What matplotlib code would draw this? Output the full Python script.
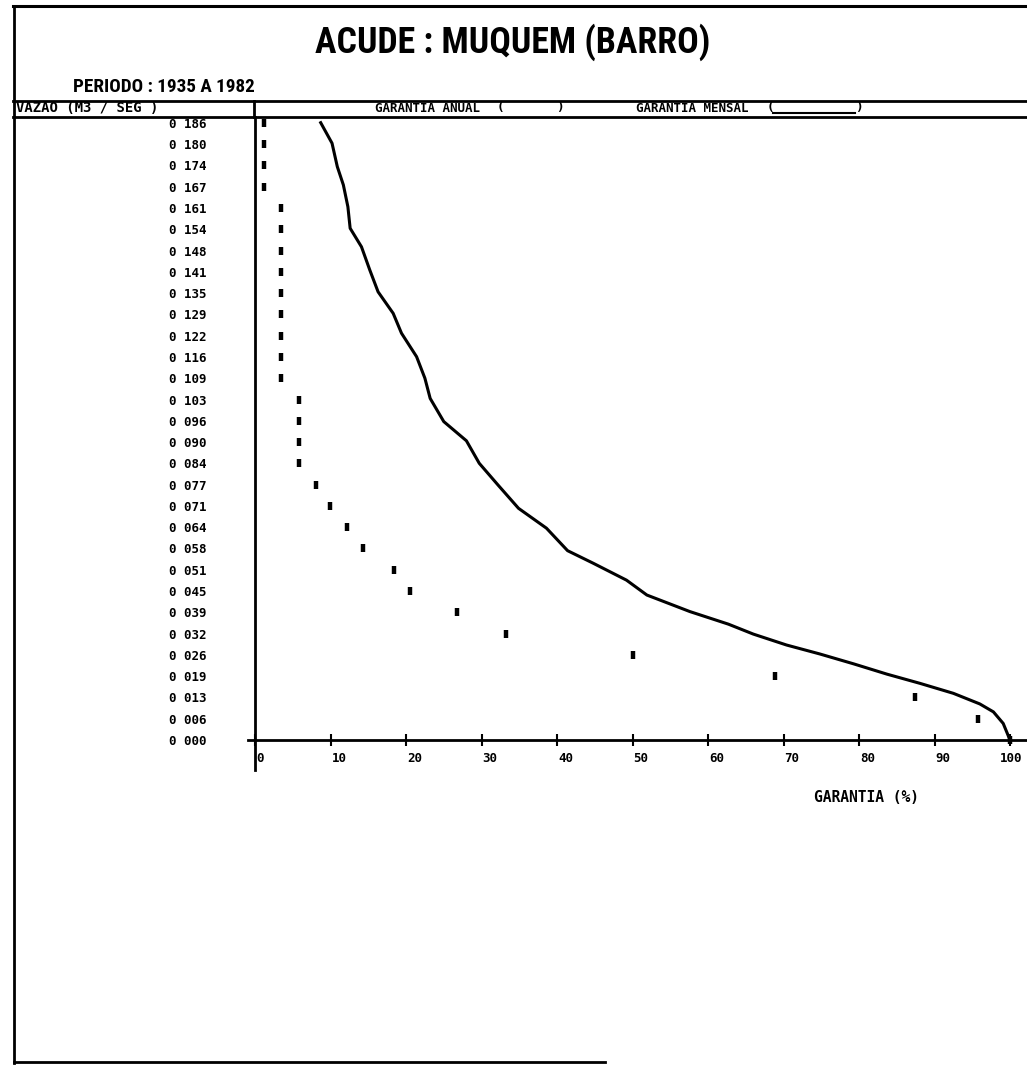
import matplotlib
matplotlib.use("Agg")
import matplotlib.pyplot as plt
from matplotlib import font_manager
from matplotlib.transforms import ScaledTranslation

# ---------------- data ----------------
title = "ACUDE : MUQUEM (BARRO)"
period = "PERIODO : 1935 A 1982"
y_header = "VAZAO (M3 / SEG )"
legend_annual = "GARANTIA ANUAL"
legend_monthly = "GARANTIA MENSAL"
x_title = "GARANTIA (%)"

y_labels = ["0 186", "0 180", "0 174", "0 167", "0 161", "0 154", "0 148", "0 141",
            "0 135", "0 129", "0 122", "0 116", "0 109", "0 103", "0 096", "0 090",
            "0 084", "0 077", "0 071", "0 064", "0 058", "0 051", "0 045", "0 039",
            "0 032", "0 026", "0 019", "0 013", "0 006", "0 000"]
# discharge levels (m3/s) behind the rounded labels
y_values = [0.1864, 0.1800, 0.1736, 0.1671, 0.1607, 0.1543, 0.1478, 0.1414,
            0.1350, 0.1286, 0.1221, 0.1157, 0.1093, 0.1028, 0.0964, 0.0900,
            0.0836, 0.0771, 0.0707, 0.0643, 0.0579, 0.0514, 0.0450, 0.0386,
            0.0321, 0.0257, 0.0193, 0.0129, 0.0064, 0.0000]

x_ticks = [0, 10, 20, 30, 40, 50, 60, 70, 80, 90, 100]
x_labels = ["0", "10", "20", "30", "40", "50", "60", "70", "80", "90", "100"]

# annual guarantee (%) for each discharge level (top to bottom)
annual_pct = [1.2, 1.2, 1.2, 1.2, 3.5, 3.5, 3.5, 3.5, 3.5, 3.5, 3.5, 3.5, 3.5,
              5.8, 5.8, 5.8, 5.8, 8.1, 9.9, 12.2, 14.3, 18.4, 20.5, 26.8,
              33.2, 50.0, 68.9, 87.4, 95.8, 100.0]

# monthly guarantee curve
monthly_pct = [8.7, 10.2, 10.9, 11.7, 12.3, 12.6, 14.1, 15.2, 16.3, 18.3, 19.4,
               21.4, 22.5, 23.2, 25.0, 28.0, 29.7, 32.2, 34.9, 38.6, 41.4, 44.8,
               49.2, 51.9, 57.6, 62.7, 66.0, 70.4, 74.8, 79.3, 83.7, 88.1, 92.5,
               96.0, 97.8, 99.1, 100.0]
monthly_q = [0.1865, 0.1803, 0.1732, 0.1677, 0.1611, 0.1546, 0.1490, 0.1420,
             0.1354, 0.1289, 0.1229, 0.1158, 0.1093, 0.1032, 0.0962, 0.0904,
             0.0836, 0.0770, 0.0700, 0.0640, 0.0572, 0.0534, 0.0483, 0.0438,
             0.0388, 0.0350, 0.0320, 0.0287, 0.0260, 0.0230, 0.0199, 0.0171,
             0.0141, 0.0109, 0.0085, 0.0050, 0.0000]

# ---------------- figure ----------------
W, H = 1027, 1072
fig = plt.figure(figsize=(W / 100, H / 100), dpi=100)
fig.patch.set_facecolor("white")


def fx(px):
    return px / W


def fy(py):
    return 1 - py / H


# overlay axes in pixel coordinates for the frame decoration
ov = fig.add_axes([0, 0, 1, 1], zorder=0)
ov.set_xlim(0, W)
ov.set_ylim(H, 0)
ov.axis("off")
ov.plot([13, W], [6, 6], color="k", lw=2.2)
ov.plot([14, 14], [6, 1063], color="k", lw=2.0)
ov.plot([14, 605], [1062, 1062], color="k", lw=2.0)
ov.plot([13, W], [101, 101], color="k", lw=2.0)
ov.plot([13, W], [117, 117], color="k", lw=2.0)
ov.plot([254, 254], [101, 117], color="k", lw=2.0)
ov.plot([773, 855], [113, 113], color="k", lw=1.5)

# main axes
ax = fig.add_axes([fx(248), fy(770), fx(1027) - fx(248), fy(117) - fy(770)], zorder=1)
ax.patch.set_alpha(0)
ax.set_xlim(-0.93, 102.25)
ax.set_ylim(-0.00906, 0.18822)
for s in ["top", "right"]:
    ax.spines[s].set_visible(False)
ax.spines["left"].set_position(("data", 0))
ax.spines["bottom"].set_position(("data", 0))
ax.spines["left"].set_linewidth(2)
ax.spines["bottom"].set_linewidth(2)

mono = "DejaVu Sans Mono"
ax.set_yticks(y_values)
ax.set_yticklabels(y_labels, fontfamily=mono, fontweight="bold", fontsize=9)
ax.tick_params(axis="y", length=0, pad=35)

ax.set_xticks(x_ticks)
ax.set_xticklabels(x_labels, fontfamily=mono, fontweight="bold", fontsize=9,
                   ha="left")
ax.tick_params(axis="x", direction="inout", length=9, width=1.5, pad=4)
off = ScaledTranslation(1 / 100, 0, fig.dpi_scale_trans)
xlabs = ax.get_xticklabels()
for lab in xlabs:
    lab.set_transform(lab.get_transform() + off)
# keep the last label inside the figure
xlabs[-1].set_ha("center")

ax.plot(monthly_pct, monthly_q, color="k", lw=2.2, clip_on=False, zorder=3)
ax.plot(annual_pct, y_values, ls="none", marker="|", ms=5.5, mew=3.2,
        color="k", clip_on=False, zorder=3)

# ---------------- texts ----------------
avail = {f.name for f in font_manager.fontManager.ttflist}
narrow = next((n for n in ["Liberation Sans Narrow", "Roboto Condensed",
                           "Open Sans Condensed", "Arial Narrow"] if n in avail), None)
if narrow:
    tfam, tstretch = narrow, "normal"
else:
    tfam, tstretch = "DejaVu Sans", "condensed"

renderer = fig.canvas.get_renderer()


def fit(t, target_w, max_size):
    bb = t.get_window_extent(renderer)
    t.set_fontsize(min(max_size, t.get_fontsize() * target_w / bb.width))


t1 = fig.text(fx(513), fy(42), title, ha="center", va="center",
              family=tfam, fontstretch=tstretch, fontweight="bold", fontsize=30)
fit(t1, 395, 40)
t2 = fig.text(fx(73), fy(87), period, ha="left", va="center",
              family=tfam, fontstretch=tstretch, fontweight="bold", fontsize=14)
fig.canvas.draw()
fit(t2, 182, 18)

hdr_y = fy(108)
fig.text(fx(16), hdr_y, y_header, ha="left", va="center",
         family=mono, fontweight="bold", fontsize=10)
fig.text(fx(375), hdr_y, legend_annual, ha="left", va="center",
         family=mono, fontweight="bold", fontsize=9)
fig.text(fx(500), hdr_y, "(", ha="center", va="center",
         family=mono, fontweight="bold", fontsize=9)
fig.text(fx(560), hdr_y, ")", ha="center", va="center",
         family=mono, fontweight="bold", fontsize=9)
fig.text(fx(636), hdr_y, legend_monthly, ha="left", va="center",
         family=mono, fontweight="bold", fontsize=9)
fig.text(fx(770), hdr_y, "(", ha="center", va="center",
         family=mono, fontweight="bold", fontsize=9)
fig.text(fx(859), hdr_y, ")", ha="center", va="center",
         family=mono, fontweight="bold", fontsize=9)

fig.text(fx(866), fy(797), x_title, ha="center", va="center",
         family=mono, fontweight="bold", fontsize=10.5)

fig.savefig("out.png", dpi=100, facecolor="white")
